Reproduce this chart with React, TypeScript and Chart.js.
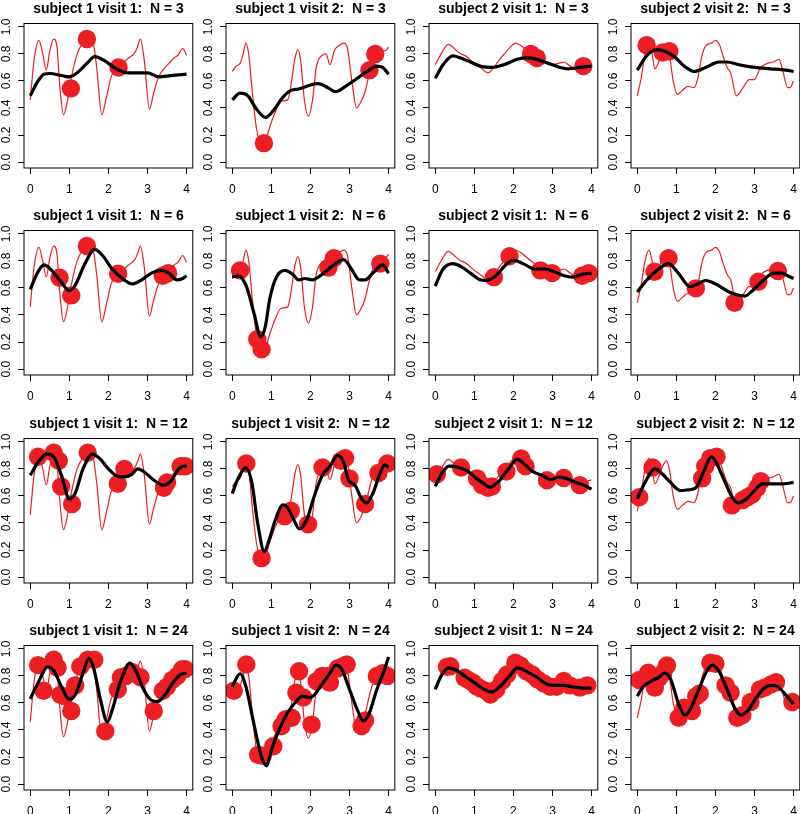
import React, { useEffect, useRef } from "react";
import { Chart, registerables } from "chart.js";

Chart.register(...registerables);

type P = [number, number];

// ---- axes / labels ----
const xTicks = [0, 1, 2, 3, 4];
const yTicks = [0, 0.2, 0.4, 0.6, 0.8, 1.0];
const panelNames = ["subject 1 visit 1", "subject 1 visit 2", "subject 2 visit 1", "subject 2 visit 2"];
const sampleSizes = [3, 6, 12, 24];

// ---- true curves (thin red), one per subject/visit ----
const trueS1V1: P[] = [[0,0.46],[0.1,0.76],[0.22,0.90],[0.32,0.80],[0.41,0.68],[0.5,0.82],[0.6,0.91],[0.68,0.86],[0.76,0.55],[0.85,0.35],[0.95,0.45],[1.05,0.62],[1.2,0.80],[1.35,0.88],[1.5,0.90],[1.6,0.89],[1.7,0.70],[1.83,0.35],[1.95,0.48],[2.07,0.63],[2.2,0.69],[2.35,0.73],[2.52,0.77],[2.65,0.80],[2.73,0.84],[2.82,0.91],[2.92,0.75],[3.05,0.39],[3.15,0.50],[3.27,0.62],[3.42,0.69],[3.55,0.73],[3.68,0.77],[3.78,0.79],[3.9,0.84],[4.0,0.79]];
const trueS1V2: P[] = [[0,0.67],[0.1,0.71],[0.2,0.73],[0.28,0.80],[0.35,0.88],[0.42,0.80],[0.52,0.50],[0.62,0.25],[0.72,0.15],[0.85,0.16],[0.95,0.25],[1.1,0.37],[1.25,0.45],[1.42,0.46],[1.52,0.60],[1.6,0.76],[1.68,0.83],[1.75,0.75],[1.85,0.45],[1.95,0.34],[2.05,0.45],[2.15,0.70],[2.3,0.79],[2.4,0.80],[2.5,0.72],[2.62,0.83],[2.72,0.86],[2.86,0.88],[2.95,0.84],[3.07,0.58],[3.18,0.40],[3.3,0.45],[3.4,0.52],[3.48,0.62],[3.57,0.72],[3.7,0.80],[3.85,0.82],[3.95,0.83],[4.0,0.85]];
const trueS2V1: P[] = [[0,0.72],[0.15,0.80],[0.33,0.87],[0.45,0.85],[0.6,0.81],[0.8,0.78],[1.0,0.73],[1.15,0.70],[1.35,0.66],[1.5,0.70],[1.65,0.76],[1.8,0.81],[1.92,0.85],[2.05,0.88],[2.2,0.86],[2.4,0.81],[2.6,0.77],[2.8,0.74],[3.0,0.72],[3.15,0.73],[3.3,0.74],[3.45,0.71],[3.6,0.69],[3.8,0.70],[4.0,0.72]];
const trueS2V2: P[] = [[0,0.49],[0.1,0.62],[0.2,0.80],[0.3,0.88],[0.38,0.80],[0.45,0.69],[0.55,0.74],[0.65,0.82],[0.75,0.86],[0.82,0.80],[0.92,0.60],[1.03,0.50],[1.15,0.53],[1.3,0.56],[1.45,0.55],[1.55,0.62],[1.65,0.78],[1.75,0.86],[1.9,0.88],[2.0,0.90],[2.1,0.87],[2.2,0.78],[2.3,0.70],[2.39,0.66],[2.54,0.49],[2.73,0.56],[2.86,0.61],[2.99,0.61],[3.16,0.70],[3.33,0.73],[3.48,0.74],[3.63,0.76],[3.72,0.68],[3.85,0.55],[3.91,0.55],[4.0,0.60]];

// ---- fitted curves (thick black) ----
const fitS1V1N3: P[] = [[0,0.49],[0.2,0.6],[0.35,0.65],[0.5,0.655],[0.8,0.64],[1.0,0.63],[1.2,0.66],[1.45,0.73],[1.65,0.78],[1.9,0.75],[2.2,0.69],[2.5,0.66],[2.8,0.66],[3.0,0.66],[3.3,0.63],[3.6,0.64],[4.0,0.65]];
const fitS1V2N3: P[] = [[0,0.46],[0.2,0.51],[0.4,0.49],[0.6,0.40],[0.85,0.33],[1.05,0.38],[1.3,0.48],[1.5,0.53],[1.7,0.54],[2.0,0.57],[2.2,0.58],[2.45,0.55],[2.65,0.52],[2.9,0.56],[3.2,0.62],[3.5,0.68],[3.7,0.71],[3.85,0.70],[4.0,0.65]];
const fitS2V1N3: P[] = [[0,0.62],[0.2,0.72],[0.45,0.785],[0.65,0.77],[0.9,0.74],[1.15,0.71],[1.45,0.70],[1.75,0.72],[2.1,0.76],[2.35,0.77],[2.6,0.76],[2.9,0.73],[3.2,0.70],[3.4,0.69],[3.7,0.70],[4.0,0.71]];
const fitS2V2N3: P[] = [[0,0.68],[0.25,0.79],[0.5,0.83],[0.7,0.82],[0.95,0.78],[1.2,0.71],[1.45,0.67],[1.75,0.70],[2.1,0.74],[2.3,0.74],[2.6,0.72],[3.0,0.70],[3.4,0.69],[3.8,0.68],[4.0,0.67]];

const fitS1V1N6: P[] = [[0,0.59],[0.2,0.72],[0.35,0.77],[0.55,0.73],[0.8,0.64],[1.0,0.58],[1.15,0.62],[1.4,0.78],[1.65,0.885],[1.85,0.84],[2.1,0.74],[2.4,0.66],[2.6,0.63],[2.85,0.66],[3.1,0.71],[3.35,0.73],[3.55,0.71],[3.75,0.66],[3.9,0.67],[4.0,0.69]];
const fitS1V2N6: P[] = [[0,0.68],[0.15,0.69],[0.35,0.62],[0.55,0.42],[0.73,0.24],[0.85,0.32],[0.96,0.52],[1.13,0.68],[1.35,0.73],[1.55,0.70],[1.7,0.66],[1.85,0.67],[2.05,0.66],[2.3,0.70],[2.55,0.76],[2.75,0.80],[2.85,0.81],[3.05,0.74],[3.25,0.66],[3.4,0.66],[3.6,0.71],[3.85,0.77],[4.0,0.71]];
const fitS2V1N6: P[] = [[0,0.614],[0.2,0.74],[0.45,0.78],[0.65,0.76],[0.9,0.71],[1.15,0.66],[1.3,0.655],[1.55,0.69],[1.8,0.77],[2.0,0.805],[2.25,0.78],[2.55,0.74],[2.8,0.74],[3.05,0.72],[3.3,0.69],[3.5,0.68],[3.75,0.70],[4.0,0.71]];
const fitS2V2N6: P[] = [[0,0.57],[0.25,0.66],[0.55,0.74],[0.8,0.78],[1.05,0.71],[1.35,0.61],[1.55,0.63],[1.75,0.655],[2.0,0.63],[2.35,0.57],[2.55,0.55],[2.75,0.54],[2.95,0.58],[3.2,0.65],[3.5,0.71],[3.7,0.71],[3.85,0.69],[4.0,0.67]];

const fitS1V1N12: P[] = [[0,0.753],[0.2,0.85],[0.42,0.91],[0.6,0.89],[0.8,0.75],[1.0,0.578],[1.15,0.62],[1.35,0.80],[1.6,0.91],[1.8,0.87],[2.0,0.80],[2.2,0.75],[2.4,0.74],[2.6,0.76],[2.75,0.80],[2.95,0.77],[3.15,0.72],[3.4,0.68],[3.6,0.71],[3.8,0.80],[3.95,0.82],[4.0,0.82]];
const fitS1V2N12: P[] = [[0,0.617],[0.15,0.73],[0.35,0.807],[0.5,0.70],[0.65,0.40],[0.82,0.19],[0.95,0.28],[1.1,0.42],[1.3,0.535],[1.4,0.52],[1.55,0.44],[1.72,0.356],[1.9,0.42],[2.1,0.60],[2.3,0.75],[2.5,0.82],[2.7,0.90],[2.85,0.85],[2.97,0.72],[3.14,0.68],[3.31,0.58],[3.44,0.548],[3.6,0.62],[3.8,0.78],[3.9,0.83],[4.0,0.81]];
const fitS2V1N12: P[] = [[0,0.672],[0.2,0.78],[0.35,0.82],[0.6,0.81],[0.85,0.78],[1.05,0.73],[1.25,0.69],[1.4,0.664],[1.6,0.70],[1.85,0.79],[2.1,0.87],[2.3,0.83],[2.5,0.78],[2.75,0.75],[2.95,0.72],[3.15,0.74],[3.35,0.73],[3.6,0.70],[3.8,0.68],[4.0,0.65]];
const fitS2V2N12: P[] = [[0,0.578],[0.2,0.70],[0.45,0.80],[0.65,0.76],[0.85,0.70],[1.1,0.64],[1.3,0.645],[1.5,0.66],[1.7,0.78],[1.9,0.89],[2.05,0.83],[2.25,0.70],[2.45,0.58],[2.6,0.548],[2.8,0.58],[3.0,0.64],[3.2,0.69],[3.5,0.69],[3.75,0.69],[4.0,0.70]];

const fitS1V1N24: P[] = [[0,0.63],[0.2,0.75],[0.45,0.867],[0.6,0.84],[0.8,0.72],[1.0,0.626],[1.15,0.66],[1.35,0.82],[1.5,0.93],[1.62,0.86],[1.8,0.62],[1.97,0.46],[2.1,0.55],[2.3,0.75],[2.55,0.895],[2.7,0.84],[2.9,0.70],[3.1,0.62],[3.25,0.61],[3.45,0.66],[3.65,0.75],[3.85,0.81],[4.0,0.82]];
const fitS1V2N24: P[] = [[0,0.72],[0.12,0.79],[0.2,0.816],[0.35,0.72],[0.55,0.45],[0.75,0.20],[0.88,0.135],[1.0,0.25],[1.2,0.40],[1.4,0.52],[1.6,0.60],[1.8,0.65],[2.0,0.64],[2.1,0.66],[2.3,0.74],[2.5,0.82],[2.65,0.88],[2.8,0.85],[3.0,0.70],[3.2,0.55],[3.35,0.467],[3.5,0.52],[3.7,0.70],[3.9,0.85],[4.0,0.94]];
const fitS2V1N24: P[] = [[0,0.70],[0.15,0.80],[0.35,0.86],[0.55,0.84],[0.8,0.79],[1.05,0.74],[1.25,0.70],[1.45,0.68],[1.65,0.72],[1.9,0.80],[2.1,0.86],[2.35,0.83],[2.6,0.79],[2.85,0.74],[3.1,0.73],[3.3,0.73],[3.5,0.72],[3.8,0.71],[4.0,0.71]];
const fitS2V2N24: P[] = [[0,0.65],[0.15,0.72],[0.35,0.76],[0.55,0.79],[0.7,0.82],[0.85,0.78],[1.05,0.60],[1.22,0.51],[1.35,0.55],[1.55,0.68],[1.75,0.82],[1.92,0.88],[2.1,0.83],[2.3,0.70],[2.5,0.56],[2.65,0.51],[2.85,0.55],[3.05,0.64],[3.25,0.71],[3.45,0.73],[3.6,0.72],[3.8,0.66],[4.0,0.59]];

// ---- observations (red dots) ----
const obsS1V1N3: P[] = [[1.04,0.545],[1.45,0.91],[2.26,0.70]];
const obsS1V2N3: P[] = [[0.81,0.14],[3.51,0.68],[3.66,0.80]];
const obsS2V1N3: P[] = [[2.45,0.80],[2.6,0.77],[3.79,0.71]];
const obsS2V2N3: P[] = [[0.24,0.865],[0.65,0.81],[0.82,0.82]];

const obsS1V1N6: P[] = [[0.75,0.675],[1.05,0.545],[1.45,0.91],[2.25,0.705],[3.39,0.69],[3.53,0.71]];
const obsS1V2N6: P[] = [[0.2,0.73],[0.64,0.22],[0.75,0.147],[2.46,0.75],[2.6,0.82],[3.79,0.78]];
const obsS2V1N6: P[] = [[1.5,0.68],[1.9,0.835],[2.69,0.73],[2.99,0.71],[3.76,0.69],[3.93,0.71]];
const obsS2V2N6: P[] = [[0.44,0.72],[0.8,0.82],[1.5,0.597],[2.49,0.49],[3.1,0.646],[3.6,0.725]];

const obsS1V1N12: P[] = [[0.2,0.89],[0.6,0.92],[0.73,0.86],[0.79,0.67],[1.07,0.54],[1.47,0.92],[2.24,0.69],[2.41,0.80],[3.42,0.66],[3.5,0.70],[3.85,0.82],[3.97,0.82]];
const obsS1V2N12: P[] = [[0.36,0.84],[0.75,0.14],[1.34,0.45],[1.5,0.49],[1.94,0.39],[2.31,0.81],[2.78,0.86],[2.89,0.88],[3.0,0.73],[3.4,0.54],[3.74,0.77],[3.97,0.84]];
const obsS2V1N12: P[] = [[0.04,0.76],[0.66,0.81],[1.07,0.73],[1.2,0.68],[1.35,0.66],[1.45,0.67],[1.82,0.78],[2.2,0.877],[2.31,0.82],[2.86,0.716],[3.29,0.733],[3.7,0.68]];
const obsS2V2N12: P[] = [[0.05,0.59],[0.39,0.81],[1.66,0.73],[1.74,0.82],[1.87,0.88],[2.03,0.89],[2.42,0.53],[2.7,0.57],[2.82,0.59],[2.94,0.61],[3.07,0.66],[3.16,0.71]];

const obsS1V1N24: P[] = [[0.2,0.88],[0.34,0.69],[0.6,0.92],[0.7,0.86],[0.77,0.66],[0.88,0.65],[1.05,0.54],[1.15,0.73],[1.28,0.87],[1.47,0.92],[1.64,0.92],[1.92,0.39],[2.24,0.70],[2.32,0.79],[2.45,0.80],[2.6,0.83],[2.82,0.79],[3.16,0.54],[3.39,0.69],[3.5,0.72],[3.63,0.77],[3.76,0.80],[3.89,0.85],[3.96,0.85]];
const obsS1V2N24: P[] = [[0.04,0.69],[0.36,0.885],[0.66,0.216],[0.78,0.21],[1.05,0.28],[1.26,0.43],[1.37,0.48],[1.52,0.49],[1.64,0.676],[1.71,0.835],[1.82,0.64],[2.03,0.44],[2.16,0.76],[2.3,0.80],[2.45,0.80],[2.5,0.75],[2.7,0.855],[2.82,0.87],[2.93,0.885],[3.31,0.43],[3.4,0.47],[3.7,0.80],[3.85,0.82],[3.97,0.80]];
const obsS2V1N24: P[] = [[0.3,0.867],[0.385,0.872],[0.75,0.786],[0.85,0.769],[0.97,0.749],[1.05,0.725],[1.15,0.708],[1.31,0.688],[1.41,0.663],[1.56,0.70],[1.71,0.762],[1.84,0.811],[2.05,0.897],[2.18,0.877],[2.33,0.835],[2.48,0.811],[2.62,0.774],[2.78,0.744],[2.95,0.72],[3.1,0.72],[3.29,0.762],[3.44,0.73],[3.7,0.713],[3.89,0.73]];
const obsS2V2N24: P[] = [[0.05,0.77],[0.2,0.786],[0.28,0.823],[0.45,0.713],[0.56,0.786],[0.67,0.823],[0.76,0.877],[1.06,0.49],[1.2,0.565],[1.4,0.54],[1.51,0.65],[1.6,0.67],[1.87,0.897],[2.0,0.89],[2.26,0.73],[2.39,0.676],[2.56,0.49],[2.69,0.51],[2.9,0.607],[3.14,0.70],[3.26,0.713],[3.42,0.737],[3.55,0.754],[3.97,0.607]];

const truths = [trueS1V1, trueS1V2, trueS2V1, trueS2V2];
const fits = [
  [fitS1V1N3, fitS1V2N3, fitS2V1N3, fitS2V2N3],
  [fitS1V1N6, fitS1V2N6, fitS2V1N6, fitS2V2N6],
  [fitS1V1N12, fitS1V2N12, fitS2V1N12, fitS2V2N12],
  [fitS1V1N24, fitS1V2N24, fitS2V1N24, fitS2V2N24],
];
const observations = [
  [obsS1V1N3, obsS1V2N3, obsS2V1N3, obsS2V2N3],
  [obsS1V1N6, obsS1V2N6, obsS2V1N6, obsS2V2N6],
  [obsS1V1N12, obsS1V2N12, obsS2V1N12, obsS2V2N12],
  [obsS1V1N24, obsS1V2N24, obsS2V1N24, obsS2V2N24],
];

// ---- style / layout ----
const FONT = "'Liberation Sans', Arial, Helvetica, sans-serif";
const RED = "rgb(236,30,36)";
const CELL_W = 202;
const CELL_H = 207;
const COL_LEFT = [0, 202, 405, 607];
const ROW_TOP = [0, 207, 415, 622];
const PLOT_BOTTOM = 168;
const AXIS_FONT = 12;

const rFrame = {
  id: "rFrame",
  afterDraw(chart: any) {
    const { ctx, chartArea: a, scales } = chart;
    ctx.save();
    ctx.strokeStyle = "#000";
    ctx.lineWidth = 1;
    ctx.strokeRect(a.left, a.top, a.right - a.left, a.bottom - a.top);
    ctx.fillStyle = "#000";
    ctx.font = `${AXIS_FONT}px ${FONT}`;
    ctx.textAlign = "center";
    ctx.textBaseline = "alphabetic";
    for (const v of yTicks) {
      const py = scales.y.getPixelForValue(v);
      ctx.save();
      ctx.translate(9.5, py);
      ctx.rotate(-Math.PI / 2);
      ctx.fillText(v.toFixed(1), 0, 0);
      ctx.restore();
    }
    ctx.restore();
  },
};

const toXY = (arr: P[]) => arr.map(([x, y]) => ({ x, y }));

function Panel({ title, truth, fit, obs, left, top }: { title: string; truth: P[]; fit: P[]; obs: P[]; left: number; top: number }) {
  const ref = useRef<HTMLCanvasElement>(null);
  useEffect(() => {
    const chart = new Chart(ref.current as HTMLCanvasElement, {
      type: "scatter",
      data: {
        datasets: [
          { type: "line", data: toXY(fit), borderColor: "#000", borderWidth: 3.2, pointRadius: 0, cubicInterpolationMode: "monotone", fill: false, order: 0 } as any,
          { type: "scatter", data: toXY(obs), backgroundColor: RED, borderColor: RED, borderWidth: 0, pointRadius: 9.2, order: 1 } as any,
          { type: "line", data: toXY(truth), borderColor: RED, borderWidth: 1.2, pointRadius: 0, cubicInterpolationMode: "monotone", fill: false, order: 2 } as any,
        ],
      },
      options: {
        responsive: false,
        animation: false,
        devicePixelRatio: 1,
        events: [],
        layout: { padding: { left: 24, right: 9, top: 0, bottom: 0 } },
        plugins: {
          legend: { display: false },
          tooltip: { enabled: false },
          title: {
            display: true,
            text: title,
            color: "#000",
            font: { family: FONT, size: 14, weight: "bold", lineHeight: 1.2 },
            padding: { top: 1, bottom: 5.7 },
          },
        },
        scales: {
          x: {
            type: "linear",
            min: -0.16,
            max: 4.16,
            afterBuildTicks: (s: any) => { s.ticks = xTicks.map((v) => ({ value: v })); },
            afterFit: (s: any) => { s.height = CELL_H - PLOT_BOTTOM; },
            grid: { drawOnChartArea: false, drawTicks: true, tickLength: 6, color: "#000", lineWidth: 1 },
            border: { display: false },
            ticks: { color: "#000", font: { family: FONT, size: AXIS_FONT }, padding: 8, maxRotation: 0, autoSkip: false, callback: (v: any) => String(v) },
          },
          y: {
            type: "linear",
            min: -0.044,
            max: 1.025,
            afterBuildTicks: (s: any) => { s.ticks = yTicks.map((v) => ({ value: v })); },
            afterFit: (s: any) => { s.width = 0; },
            grid: { drawOnChartArea: false, drawTicks: true, tickLength: 6, color: "#000", lineWidth: 1 },
            border: { display: false },
            ticks: { display: false },
          },
        },
      } as any,
      plugins: [rFrame],
    });
    return () => chart.destroy();
  }, []);
  return (
    <canvas
      ref={ref}
      width={CELL_W}
      height={CELL_H}
      style={{ position: "absolute", left, top, width: CELL_W, height: CELL_H, display: "block" }}
    />
  );
}

export default function App() {
  return (
    <div style={{ position: "absolute", left: 0, top: 0, width: 800, height: 814, overflow: "hidden", background: "#fff" }}>
      {sampleSizes.map((n, r) =>
        panelNames.map((name, c) => (
          <Panel
            key={`${r}-${c}`}
            title={`${name}:  N = ${n}`}
            truth={truths[c]}
            fit={fits[r][c]}
            obs={observations[r][c]}
            left={COL_LEFT[c]}
            top={ROW_TOP[r]}
          />
        ))
      )}
    </div>
  );
}
